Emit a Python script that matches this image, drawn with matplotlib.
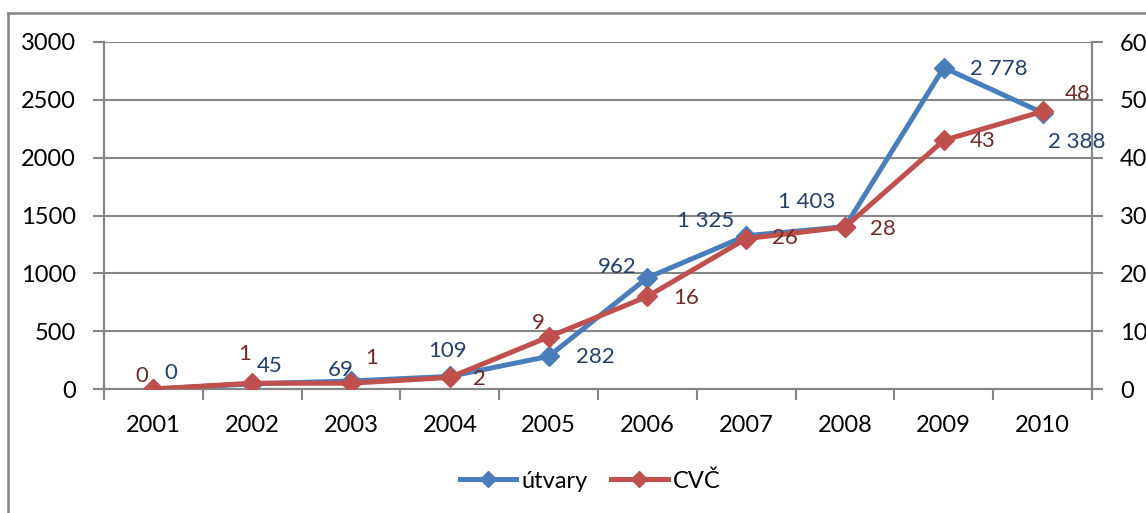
import numpy as np
import matplotlib.pyplot as plt
from matplotlib.lines import Line2D

plt.rcParams['font.family'] = ['Lato', 'DejaVu Sans']

roky = ['2001', '2002', '2003', '2004', '2005', '2006', '2007', '2008', '2009', '2010']
utvary = [0, 45, 69, 109, 282, 962, 1325, 1403, 2778, 2388]
cvc = [0, 1, 1, 2, 9, 16, 26, 28, 43, 48]

utvary_txt = ['0', '45', '69', '109', '282', '962', '1 325', '1 403', '2 778', '2 388']

# posuny popisku v pixelech (dx, dy nahoru)
off_u = [(17, 16), (17, 18), (-10, 11), (-2, 25), (47, -1), (-30, 11), (-41, 15), (-38, 25), (55, -1), (34, -29)]
off_c = [(-12, 13), (-8, 29), (21, 25), (30, -2), (-10, 14), (39, -2), (39, 1), (38, -2), (39, -1), (35, 17)]

modra = '#4A7EBB'
cervena = '#C0504D'
modra_t = '#243F68'
cervena_t = '#722B29'
seda = '#868686'

fig = plt.figure(figsize=(11.46, 5.13), dpi=100)
ax = fig.add_axes([104/1146, 1-389/513, (1092-104)/1146, (389-42)/513])
ax2 = ax.twinx()

x = np.arange(len(roky))
ax.plot(x, utvary, color=modra, lw=3.6, marker='D', ms=10, zorder=3, label='útvary')
ax2.plot(x, cvc, color=cervena, lw=3.6, marker='D', ms=10, zorder=3, label='CVČ')

for i in range(len(roky)):
    dx, dy = off_u[i]
    ax.annotate(utvary_txt[i], (x[i], utvary[i]), xytext=(dx*0.72, dy*0.72),
                textcoords='offset points', ha='center', va='center',
                color=modra_t, fontsize=16, zorder=5)
    dx, dy = off_c[i]
    ax2.annotate(str(cvc[i]), (x[i], cvc[i]), xytext=(dx*0.72, dy*0.72),
                 textcoords='offset points', ha='center', va='center',
                 color=cervena_t, fontsize=16, zorder=5)

ax.set_xlim(-0.5, 9.5)
ax.set_ylim(0, 3000)
ax2.set_ylim(0, 60)
ax.set_yticks(np.arange(0, 3001, 500))
ax2.set_yticks(np.arange(0, 61, 10))
ax.set_xticks(x)
ax.set_xticklabels(roky)
ax.set_xticks(np.arange(-0.5, 10, 1), minor=True)

ax.grid(axis='y', color=seda, lw=1.5)
ax.set_axisbelow(True)

for a in (ax, ax2):
    for s in a.spines.values():
        s.set_color(seda)
        s.set_linewidth(1.5)
    a.spines['top'].set_visible(False)

ax.tick_params(axis='x', which='major', length=0, pad=19, labelsize=17)
ax.tick_params(axis='x', which='minor', length=8, width=1.5, color=seda)
ax.tick_params(axis='y', length=8, width=1.5, color=seda, pad=12, labelsize=17)
ax2.tick_params(axis='y', length=8, width=1.5, color=seda, pad=12, labelsize=17)

h1, l1 = ax.get_legend_handles_labels()
h2, l2 = ax2.get_legend_handles_labels()
fig.legend(h1 + h2, l1 + l2, loc='center', bbox_to_anchor=(590/1146, 1-481/513),
           ncol=2, frameon=False, fontsize=17, handlelength=2.4, handletextpad=0.2,
           columnspacing=1.0, markerscale=0.8)

# ramecek grafu
fig.add_artist(Line2D([8/1146, 8/1146], [0, 1-13/513], color=seda, lw=1.8))
fig.add_artist(Line2D([8/1146, 1], [1-13/513, 1-13/513], color=seda, lw=1.8))

fig.savefig('out.png', dpi=100)
